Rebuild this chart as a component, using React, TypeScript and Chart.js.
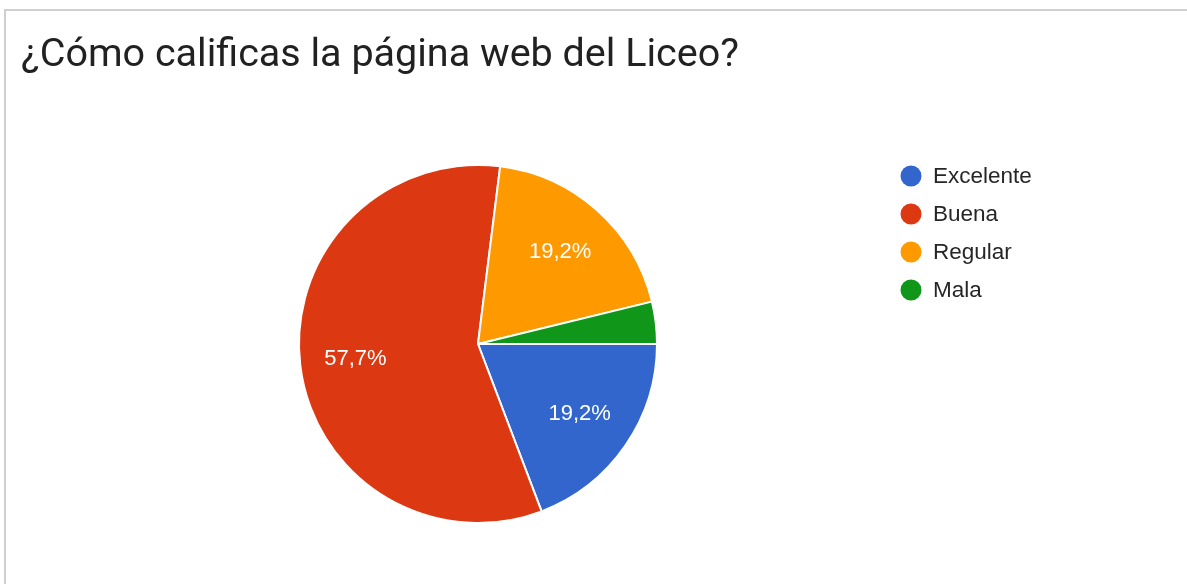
import React, { useEffect, useRef } from "react";
import { Chart, registerables } from "chart.js";

Chart.register(...registerables);

const TITLE = "¿Cómo calificas la página web del Liceo?";
const CATEGORIES = ["Excelente", "Buena", "Regular", "Mala"];
const PERCENTAGES = [19.2, 57.7, 19.2, 3.8];
const COLORS = ["#3366CC", "#DC3912", "#FF9900", "#109618"];

const sideLegendPlugin = {
  id: "sideLegend",
  afterDraw(chart: any, _args: any, opts: any) {
    const ctx = chart.ctx;
    const labels = chart.data.labels as string[];
    const bg = chart.data.datasets[0].backgroundColor as string[];
    ctx.save();
    ctx.font = opts.font;
    ctx.textBaseline = "middle";
    ctx.textAlign = "left";
    labels.forEach((lab, i) => {
      const y = opts.y + i * opts.spacing;
      ctx.beginPath();
      ctx.arc(opts.x, y, opts.r, 0, Math.PI * 2);
      ctx.fillStyle = bg[i];
      ctx.fill();
      ctx.fillStyle = opts.color;
      ctx.fillText(lab, opts.x + opts.textGap, y + 1);
    });
    ctx.restore();
  },
};

const sliceLabelPlugin = {
  id: "sliceLabels",
  afterDatasetsDraw(chart: any, _args: any, opts: any) {
    const ctx = chart.ctx;
    const meta = chart.getDatasetMeta(0);
    const data = chart.data.datasets[0].data as number[];
    ctx.save();
    ctx.font = opts.font;
    ctx.fillStyle = opts.color;
    ctx.textAlign = "center";
    ctx.textBaseline = "middle";
    meta.data.forEach((arc: any, i: number) => {
      const v = data[i];
      if (v < opts.minPercent) return;
      const p = arc.getProps(["x", "y", "startAngle", "endAngle", "outerRadius"], true);
      const mid = (p.startAngle + p.endAngle) / 2;
      const r = p.outerRadius * opts.radiusFactor;
      ctx.fillText(
        v.toFixed(1).replace(".", ",") + "%",
        p.x + Math.cos(mid) * r,
        p.y + Math.sin(mid) * r
      );
    });
    ctx.restore();
  },
};

export default function App() {
  const ref = useRef<HTMLCanvasElement | null>(null);

  useEffect(() => {
    if (!ref.current) return;
    const chart = new Chart(ref.current, {
      type: "pie",
      data: {
        labels: CATEGORIES,
        datasets: [
          {
            data: PERCENTAGES,
            backgroundColor: COLORS,
            borderColor: "#ffffff",
            borderWidth: 2,
            radius: 179,
          } as any,
        ],
      },
      options: {
        responsive: false,
        animation: false,
        rotation: 90,
        layout: { padding: { left: 21, right: 252, top: 0, bottom: 4.4 } },
        plugins: {
          legend: { display: false },
          tooltip: { enabled: false },
          title: {
            display: true,
            text: TITLE,
            align: "start",
            color: "#212121",
            font: { family: "Roboto", size: 39.5, weight: "normal" as any },
            padding: { top: 32, bottom: 29 },
          },
          sideLegend: {
            x: 911,
            y: 176,
            spacing: 38,
            r: 10.5,
            textGap: 22,
            font: "22.5px 'Liberation Sans', Arial, sans-serif",
            color: "#262626",
          },
          sliceLabels: {
            font: "22px 'Liberation Sans', Arial, sans-serif",
            color: "#ffffff",
            radiusFactor: 0.69,
            minPercent: 5,
          },
        } as any,
      },
      plugins: [sideLegendPlugin, sliceLabelPlugin],
    });
    return () => chart.destroy();
  }, []);

  return (
    <div
      style={{
        position: "fixed",
        left: 0,
        top: 0,
        width: 1187,
        height: 584,
        background: "#ffffff",
        overflow: "hidden",
      }}
    >
      <div
        style={{
          position: "absolute",
          left: 4,
          top: 9,
          width: 1200,
          height: 600,
          borderTop: "2px solid #cfcfcf",
          borderLeft: "2px solid #cfcfcf",
        }}
      />
      <canvas
        ref={ref}
        width={1187}
        height={584}
        style={{ position: "absolute", left: 0, top: 0 }}
      />
    </div>
  );
}
